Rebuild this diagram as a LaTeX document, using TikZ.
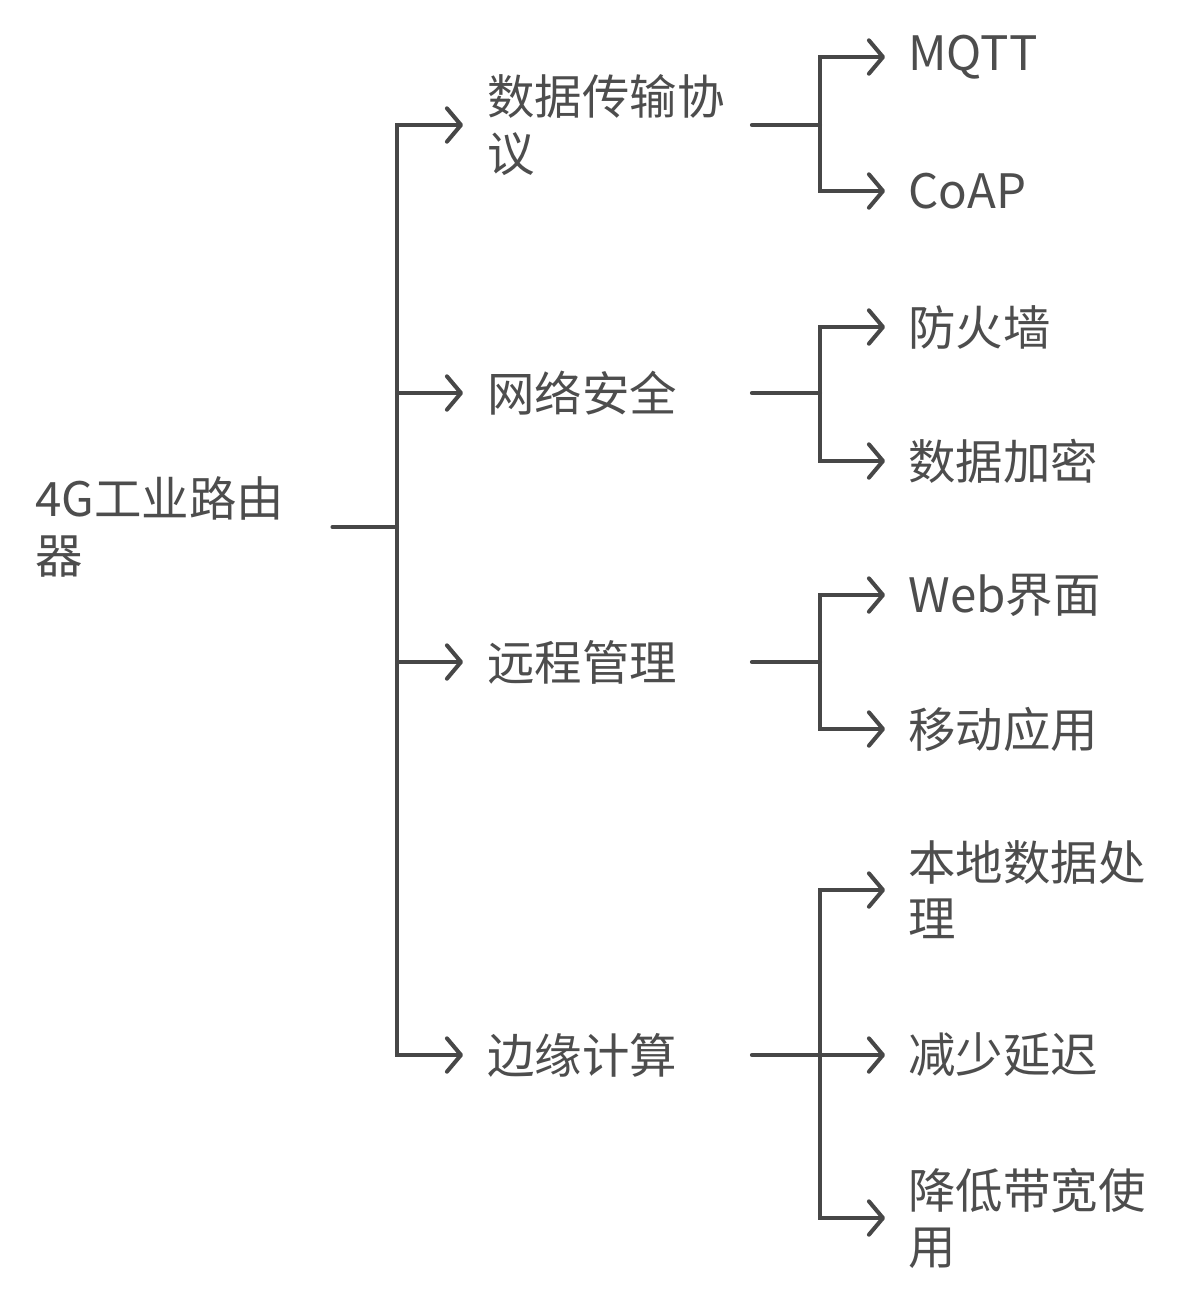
\documentclass[tikz,border=0pt]{standalone}
\usepackage{fontspec}
\setmainfont{Noto Sans CJK SC}
\usetikzlibrary{arrows.meta,positioning,calc}
\definecolor{linegray}{HTML}{474747}
\definecolor{textgray}{HTML}{4D4D4D}

\begin{document}
\begin{tikzpicture}[x=0.02cm,y=-0.02cm,
    lbl/.style={anchor=west, inner sep=0pt, align=left, text=textgray,
                font=\fontsize{27}{32}\selectfont},
    conn/.style={draw=linegray, line width=2.3pt, line cap=round},
    arr/.style={conn, -{Straight Barb[length=8pt,width=19pt,round]}},
  ]
  \useasboundingbox (0,0) rectangle (1191,1306);

  % root and first level
  \node[lbl] (root) at (35,527)  {4G工业路由\\器};
  \node[lbl] (proto) at (487,125)  {数据传输协\\议};
  \node[lbl] (sec)   at (487,393)  {网络安全};
  \node[lbl] (mgmt)  at (487,662)  {远程管理};
  \node[lbl] (edge)  at (487,1055) {边缘计算};

  % second level
  \node[lbl] (mqtt)  at (908,57)   {MQTT};
  \node[lbl] (coap)  at (908,191)  {CoAP};
  \node[lbl] (fw)    at (908,327)  {防火墙};
  \node[lbl] (enc)   at (908,461)  {数据加密};
  \node[lbl] (web)   at (908,595)  {Web界面};
  \node[lbl] (app)   at (908,729)  {移动应用};
  \node[lbl] (local) at (908,890)  {本地数据处\\理};
  \node[lbl] (lat)   at (908,1055) {减少延迟};
  \node[lbl] (bw)    at (908,1218) {降低带宽使\\用};

  % junctions
  \coordinate (hub) at (397,527);
  \coordinate (hproto) at (820,125);
  \coordinate (hsec)   at (820,393);
  \coordinate (hmgmt)  at (820,662);
  \coordinate (hedge)  at (820,1055);

  \draw[conn] ([xshift=0.96cm]root.east) -- (hub);
  \foreach \n in {proto,sec,mgmt,edge}
    \draw[arr] (hub) |- ([xshift=-0.48cm]\n.west);

  \foreach \n/\h in {proto/hproto,sec/hsec,mgmt/hmgmt,edge/hedge}
    \draw[conn] ([xshift=5.3cm]\n.west) -- (\h);

  \foreach \h/\c in {hproto/mqtt,hproto/coap,hsec/fw,hsec/enc,
                     hmgmt/web,hmgmt/app,hedge/local,hedge/lat,hedge/bw}
    \draw[arr] (\h) |- ([xshift=-0.46cm]\c.west);
\end{tikzpicture}
\end{document}
